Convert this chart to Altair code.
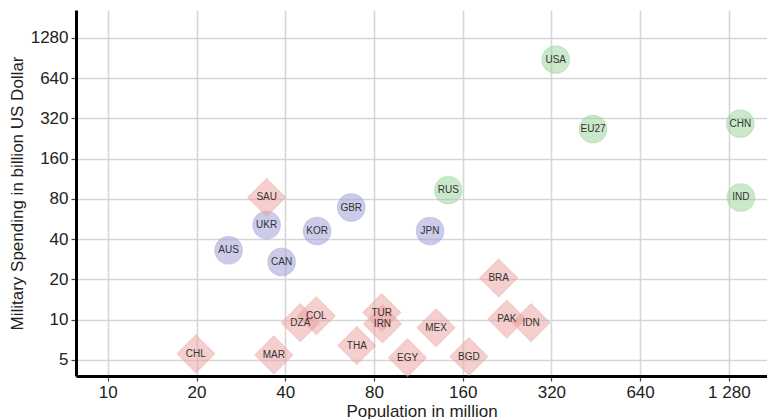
import altair as alt
import pandas as pd

codes = ["USA", "EU27", "CHN", "IND", "RUS",
         "GBR", "JPN", "KOR", "UKR", "AUS", "CAN",
         "SAU", "BRA", "PAK", "IDN", "TUR", "IRN", "MEX", "EGY", "BGD",
         "THA", "DZA", "COL", "MAR", "CHL"]
population = [331, 443, 1400, 1407, 143,
              67, 124, 51.3, 34.6, 25.7, 38.9,
              34.6, 212, 226, 273, 85, 85.5, 130, 104, 168,
              70, 45, 51, 36.6, 19.9]
spending = [880, 266, 292, 82, 93,
            69, 46, 46, 51, 33, 27,
            82, 20.5, 10.1, 9.5, 11.3, 9.3, 8.7, 5.2, 5.3,
            6.4, 9.5, 10.7, 5.45, 5.55]
group = ["power"] * 5 + ["ally"] * 6 + ["other"] * 14

x_ticks = [10, 20, 40, 80, 160, 320, 640, 1280]
y_ticks = [5, 10, 20, 40, 80, 160, 320, 640, 1280]

df = pd.DataFrame({"code": codes, "pop": population, "mil": spending, "group": group})

xs = alt.X("pop:Q", scale=alt.Scale(type="log", base=2, domain=[7.8, 1725], nice=False, zero=False),
           axis=alt.Axis(values=x_ticks, title="Population in million",
                         labelExpr="datum.value == 1280 ? '1 280' : datum.label"))
ys = alt.Y("mil:Q", scale=alt.Scale(type="log", base=2, domain=[3.79, 2070], nice=False, zero=False),
           axis=alt.Axis(values=y_ticks, format="d", title="Military Spending in billion US Dollar"))

color = alt.Color("group:N", scale=alt.Scale(domain=["power", "ally", "other"],
                                             range=["#96d296", "#9a9ad6", "#ec9e9e"]), legend=None)

circles = alt.Chart(df).transform_filter("datum.group != 'other'").mark_point(
    shape="circle", filled=True, size=760, fillOpacity=0.5, strokeOpacity=0.35, strokeWidth=1.2
).encode(x=xs, y=ys, color=color, stroke=color)

diamonds = alt.Chart(df).transform_filter("datum.group == 'other'").mark_point(
    shape="diamond", filled=True, size=1450, fillOpacity=0.5, strokeOpacity=0.3, strokeWidth=1.2
).encode(x=xs, y=ys, color=color, stroke=color)

labels = alt.Chart(df).mark_text(fontSize=10, color="#333333", font="Liberation Sans").encode(
    x=xs, y=ys, text="code:N")

chart = alt.layer(circles, diamonds, labels).properties(
    width=691, height=366,
    padding={"left": 0, "top": 2, "right": 0, "bottom": 0}
).configure_view(stroke=None).configure_axis(
    grid=True, gridColor="#d6d6d6", gridWidth=1.6,
    domainColor="black", domainWidth=3,
    tickColor="#444444", tickSize=5, tickWidth=1.2,
    labelFont="Liberation Sans", labelFontSize=17, labelColor="#222222",
    titleFont="Liberation Sans", titleFontSize=17, titleFontWeight="normal", titleColor="#222222",
    labelPadding=3
).configure_axisX(titlePadding=3).configure_axisY(titlePadding=4)

chart.save("out.html", embed_options={"renderer": "svg", "actions": False})
